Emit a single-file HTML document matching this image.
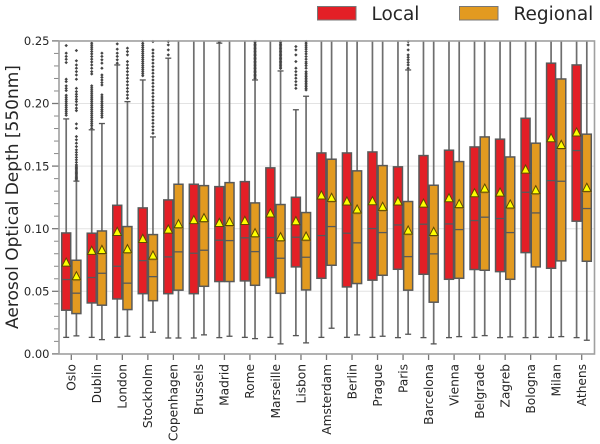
<!DOCTYPE html>
<html lang="en">
<head>
<meta charset="utf-8">
<title>Aerosol Optical Depth by City</title>
<style>
html,body{margin:0;padding:0;background:#fff}
svg{display:block}
text{font-family:"DejaVu Sans","Liberation Sans",sans-serif;fill:#262626}
</style>
</head>
<body>
<svg id="chart" width="600" height="444" viewBox="0 0 600 444">
  <g id="grid"></g>
  <g id="marks"></g>
  <g id="axes"></g>
  <text x="18" y="197" font-size="17" text-anchor="middle" transform="rotate(-90 18 197)">Aerosol Optical Depth [550nm]</text>
  <g>
    <g>
      <rect x="317.5" y="6.5" width="38.5" height="13.5" fill="#e31f26" stroke="#777" stroke-width="1"></rect>
      <text x="371.5" y="20" font-size="18.5">Local</text>
    </g>
    <g>
      <rect x="459.5" y="6.5" width="38.5" height="13.5" fill="#e29a20" stroke="#777" stroke-width="1"></rect>
      <text x="513.5" y="20" font-size="18.5">Regional</text>
    </g>
  </g>
</svg>
<script>
const cities = ["Oslo","Dublin","London","Stockholm","Copenhagen","Brussels","Madrid","Rome","Marseille","Lisbon","Amsterdam","Berlin","Prague","Paris","Barcelona","Vienna","Belgrade","Zagreb","Bologna","Milan","Athens"];
const yTickLabels = ["0.00","0.05","0.10","0.15","0.20","0.25"];
const yMinorTicks = [0.01,0.02,0.03,0.04,0.06,0.07,0.08,0.09,0.11,0.12,0.13,0.14,0.16,0.17,0.18,0.19,0.21,0.22,0.23,0.24];

const localQ1 = [.0349,.0407,.0439,.0481,.0481,.0481,.0578,.0583,.0609,.0695,.0604,.0535,.0589,.0676,.0636,.0596,.0674,.0657,.0809,.0684,.106];
const localMedian = [.0594,.061,.07,.0745,.0775,.0804,.0908,.0927,.0929,.0932,.0945,.0964,.1001,.103,.1036,.1038,.1065,.1081,.1291,.1384,.1624];
const localQ3 = [.0966,.0964,.1187,.1166,.123,.1355,.1336,.1376,.1486,.1251,.1605,.1605,.1613,.1494,.1584,.1627,.1653,.1715,.1882,.2322,.2308];
const localMean = [.0729,.0823,.0974,.0918,.0993,.1068,.1046,.1062,.1121,.106,.1265,.1217,.1219,.1217,.12,.1243,.1283,.1288,.1472,.1722,.1768];
const localLow = [.0132,.0132,.0132,.0132,.0127,.0127,.013,.0132,.0132,.0146,.0132,.0132,.0132,.013,.013,.013,.0132,.013,.013,.0132,.013];
const localHigh = [.1877,.179,.2308,.2188,.2362,.26,.2482,.26,.26,.195,.26,.26,.26,.26,.26,.26,.26,.26,.26,.26,.26];

const regionalQ1 = [.0322,.0389,.0354,.0425,.0509,.054,.0578,.0548,.0484,.0511,.0708,.0562,.0628,.0509,.0413,.0604,.0668,.0596,.0695,.0743,.074];
const regionalMedian = [.0485,.0644,.0565,.0617,.0815,.0828,.0905,.0817,.0764,.0772,.1017,.0887,.0969,.0777,.0799,.0993,.1092,.0969,.1126,.1379,.1161];
const regionalQ3 = [.0748,.0982,.1017,.0953,.1355,.1344,.1368,.1206,.1193,.1129,.1555,.1462,.1504,.1217,.1347,.1536,.1733,.1573,.1683,.2196,.1755];
const regionalMean = [.062,.083,.0836,.0785,.1036,.1084,.1054,.0964,.0932,.0937,.1246,.1153,.1174,.0985,.0974,.1196,.132,.1193,.1307,.1669,.1326];
const regionalLow = [.0144,.0114,.0141,.0173,.0127,.0152,.0141,.0122,.008,.0088,.0205,.0152,.0141,.0157,.008,.0138,.0146,.0136,.0132,.0138,.0109];
const regionalHigh = [.138,.184,.2015,.1733,.26,.26,.26,.2188,.226,.2058,.26,.26,.26,.2268,.26,.26,.26,.26,.26,.26,.26];

const localFliers = [
 [.2463,.2402,.2376,.2353,.2327,.2194,.2175,.2141,.2121,.2103,.2066,.205,.2034,.2018,.2002,.1986,.197,.1953,.1938,.1922,.1906],
 [.2482,.2466,.245,.2434,.2415,.2396,.2375,.2354,.2332,.2308,.2282,.2255,.2236,.2141,.2125,.2109,.2093,.2077,.2061,.2045,.203,.2014,.1998,.1982,.1966,.195,.1934,.1918,.1902,.1886,.187,.1854,.1838,.1822,.1802],
 [.2476,.2434,.2402,.2376,.2349,.2322],
 [.2495,.2478,.2462,.2446,.243,.2414,.2398,.2382,.2366,.235,.2334,.2318,.2302,.2286,.227,.2254,.2238,.2222],
 [.2495,.2468,.2428,.2388],
 [],[.2492],[],[],
 [.2455,.2428,.2388,.2335,.2282,.2255,.2228,.2202,.2175,.2148,.2121],
 [],[],[],[],[],[],[],[],[],[],[]
];
const regionalFliers = [
 [.2423,.2341,.2308,.2282,.2255,.2228,.2194,.2121,.2095,.2074,.2055,.2034,.2015,.1989,.1963,.1943,.1837,.1802,.1736,.171,.1683,.1656,.163,.161,.159,.157,.155,.153,.151,.15,.149,.148,.147,.146,.145,.144,.143,.142,.141,.14,.139],
 [.2402,.2376,.2349,.2322,.2282,.2228,.2209,.2188,.2167,.2148,.2069,.2052,.2036,.2018,.2002,.1986,.197,.1953,.1938,.1922,.1906,.189],
 [.2442,.2415,.2388,.2335,.2308,.2282,.2255,.2228,.2202,.2175,.2148,.2121,.2095,.2068,.2042],
 [.2495,.2428,.2402,.2376,.2349,.2322,.2295,.2268,.2242,.2215,.2188,.2162,.2135,.2108,.2082,.2055,.2028,.2002,.1975,.1948,.1922,.1895,.1868,.1842,.1815,.1788,.1762],
 [],[],[],
 [.2495,.2484,.2472,.2461,.245,.2438,.2427,.2416,.2404,.2393,.2382,.237,.2359,.2348,.2336,.2325,.2314,.2302,.2291,.228,.2268,.2257,.2246,.2234,.2223,.2212,.22],
 [.2495,.2484,.2472,.2461,.245,.2438,.2427,.2416,.2404,.2393,.2382,.237,.2359,.2348,.2336,.2325,.2314,.2302,.2291,.228],
 [.2495,.2482,.2466,.245,.2434,.2415,.2396,.2375,.2354,.2332,.2318,.2302,.2282,.2255,.2242,.2228,.2215,.2202,.2188,.2175,.2162,.2148,.2135,.2121,.2108],
 [],[],[],
 [.2495,.2468,.2428,.2388,.2369,.2349,.2328,.2308,.2282],
 [],[],[],[],[],[],[]
];

const svgNS = "http://www.w3.org/2000/svg";
const plotLeft = 59, plotRight = 594.5, plotTop = 41, plotBottom = 354;
function yScale(v){ return 353.9 - v * 1252; }
function xScale(i){ return 71.3 + i * 25.52; }
function clipY(v){ return Math.max(plotTop, yScale(v)); }
function make(tag, attrs, parent){
  const el = document.createElementNS(svgNS, tag);
  for (const k in attrs) el.setAttribute(k, attrs[k]);
  parent.appendChild(el);
  return el;
}
const gridG = document.getElementById("grid");
const marksG = document.getElementById("marks");
const axesG = document.getElementById("axes");

/* gridlines and y axis */
yTickLabels.forEach(function(label){
  const v = parseFloat(label);
  const y = yScale(v);
  const gl = make("line",{x1:plotLeft,x2:plotRight,y1:y,y2:y,stroke:"#e3e3e3","stroke-width":1},gridG);
  
  
  const tk = make("line",{x1:52,x2:plotLeft,y1:y,y2:y,stroke:"#777","stroke-width":1.3},axesG);
  
  
  const t = make("text",{x:49.5,y:y+4.2,"font-size":11.5,"text-anchor":"end"},axesG);
  t.textContent = label;
  
  
});
yMinorTicks.forEach(function(v){
  const y = yScale(v);
  const tk = make("line",{x1:54,x2:plotLeft,y1:y,y2:y,stroke:"#888","stroke-width":1},axesG);
  
  
});

/* one box */
function drawBox(i, offset, color, q1, med, q3, mean, low, high, fliers, seriesName, showMeanLine){
  const cx = xScale(i) + offset, w = 9;
  const g = make("g",{},marksG);
  
  
  fliers.forEach(function(v){
    const y = yScale(v);
    const d = make("path",{d:"M"+cx+" "+(y-1.7)+"L"+(cx+1.7)+" "+y+"L"+cx+" "+(y+1.7)+"L"+(cx-1.7)+" "+y+"Z",fill:"#444"},g);
    
    
  });
  const wh = make("line",{x1:cx,x2:cx,y1:clipY(high),y2:yScale(low),stroke:"#6e6e6e","stroke-width":1.7},g);
  
  
  [low, high].forEach(function(v){
    if (v >= 0.25) return;
    const y = yScale(v);
    const c = make("line",{x1:cx-3,x2:cx+3,y1:y,y2:y,stroke:"#555","stroke-width":1.3},g);
    
    
  });
  const r = make("rect",{x:cx-w/2,y:yScale(q3),width:w,height:yScale(q1)-yScale(q3),fill:color,stroke:"#595959","stroke-width":1.5},g);
  
  
  const m = make("line",{x1:cx-w/2,x2:cx+w/2,y1:yScale(med),y2:yScale(med),stroke:"#595959","stroke-width":1.3},g);
  
  
  const my = yScale(mean);
  if (showMeanLine){
    const ml = make("line",{x1:cx-w/2,x2:cx+w/2,y1:my+4.4,y2:my+4.4,stroke:"#b08428","stroke-width":0.8},g);
    
    
  }
  const tri = make("path",{d:"M"+cx+" "+(my-4.6)+"L"+(cx+4.2)+" "+(my+3.5)+"L"+(cx-4.2)+" "+(my+3.5)+"Z",fill:"#ffff00",stroke:"#5f4a00","stroke-width":1,"stroke-linejoin":"miter"},g);
  
  
}

cities.forEach(function(city, i){
  drawBox(i, -5.1, "#e31f26", localQ1[i], localMedian[i], localQ3[i], localMean[i], localLow[i], localHigh[i], localFliers[i], "local", false);
  drawBox(i, 5.1, "#e29a20", regionalQ1[i], regionalMedian[i], regionalQ3[i], regionalMean[i], regionalLow[i], regionalHigh[i], regionalFliers[i], "regional", true);
  const x = xScale(i);
  const tk = make("line",{x1:x,x2:x,y1:plotBottom,y2:360,stroke:"#777","stroke-width":1.3},axesG);
  
  
  const t = make("text",{x:x+4.3,y:364,"font-size":12.2,"text-anchor":"end",transform:"rotate(-90 "+(x+4.3)+" 364)"},axesG);
  t.textContent = city;
  
  
});

/* frame */
const frame = make("rect",{x:plotLeft,y:plotTop,width:plotRight-plotLeft,height:plotBottom-plotTop,fill:"none",stroke:"#a0a0a0","stroke-width":1.6},axesG);


</script>
</body>
</html>
